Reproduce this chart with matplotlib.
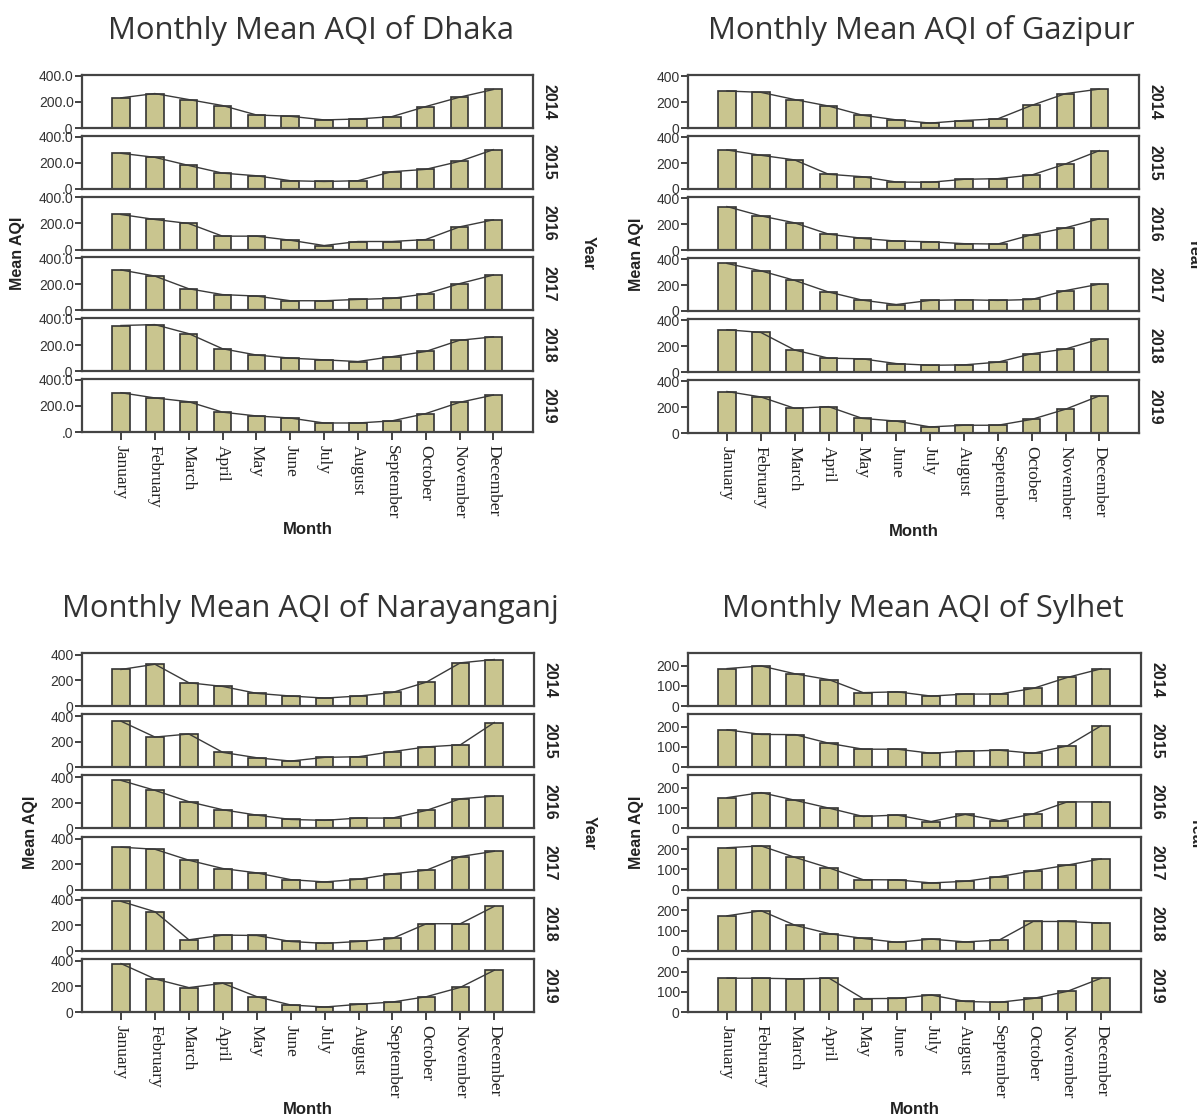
import numpy as np
import matplotlib
matplotlib.use("Agg")
import matplotlib.pyplot as plt

# ---------------------------
# Data
# ---------------------------
months = ["January", "February", "March", "April", "May", "June", "July",
          "August", "September", "October", "November", "December"]
years = ["2014", "2015", "2016", "2017", "2018", "2019"]

dhaka = [
    [231, 264, 218, 172, 100, 90, 62, 69, 87, 164, 236, 295],
    [272, 241, 179, 120, 100, 62, 56, 62, 131, 149, 210, 300],
    [269, 231, 200, 103, 103, 72, 31, 62, 62, 77, 174, 228],
    [310, 263, 166, 121, 110, 74, 74, 84, 92, 126, 205, 271],
    [350, 357, 288, 172, 124, 100, 87, 74, 111, 151, 237, 263],
    [301, 261, 232, 152, 123, 107, 69, 69, 85, 141, 227, 283],
]
gazipur = [
    [286, 276, 220, 170, 99, 63, 38, 58, 71, 175, 266, 301],
    [302, 261, 225, 114, 95, 54, 52, 75, 80, 108, 194, 297],
    [336, 264, 210, 123, 90, 69, 64, 49, 46, 118, 172, 241],
    [368, 311, 237, 147, 84, 50, 82, 87, 82, 89, 158, 208],
    [327, 306, 170, 107, 102, 65, 52, 55, 76, 141, 178, 254],
    [321, 279, 191, 204, 113, 92, 47, 60, 60, 105, 184, 287],
]
narayanganj = [
    [286, 327, 182, 153, 99, 78, 62, 78, 106, 187, 338, 364],
    [360, 236, 260, 116, 74, 48, 77, 82, 122, 159, 175, 350],
    [376, 298, 209, 146, 104, 70, 63, 81, 81, 141, 232, 253],
    [332, 316, 230, 165, 131, 78, 60, 81, 123, 152, 259, 300],
    [387, 306, 86, 123, 120, 73, 58, 73, 97, 212, 212, 348],
    [379, 259, 191, 225, 120, 55, 39, 60, 78, 120, 193, 327],
]
sylhet = [
    [185, 198, 159, 130, 66, 70, 49, 59, 59, 87, 141, 184],
    [185, 162, 161, 118, 89, 89, 69, 79, 84, 69, 105, 205],
    [152, 177, 139, 100, 59, 66, 34, 69, 38, 72, 131, 131],
    [207, 216, 159, 107, 49, 48, 33, 41, 64, 93, 121, 152],
    [173, 198, 126, 85, 61, 42, 58, 44, 53, 145, 145, 137],
    [167, 167, 164, 167, 66, 67, 84, 52, 48, 67, 102, 167],
]

# ---------------------------
# Layout (pixels)
# ---------------------------
W, H = 1197, 1115
fig = plt.figure(figsize=(W / 100, H / 100), dpi=100)

BAR_COLOR = "#c9c58f"
EDGE = "#333333"
ROW_H = 53

panels = [
    dict(name="Dhaka", data=dhaka, left=82, right=533, top=75, pitch=60.8,
         ymax=406, ticks=[0, 200, 400], labels=[".0", "200.0", "400.0"],
         title_dx=4, ylab_x=18),
    dict(name="Gazipur", data=gazipur, left=688, right=1139, top=75, pitch=61,
         ymax=410, ticks=[0, 200, 400], labels=["0", "200", "400"],
         title_dx=8, ylab_x=637),
    dict(name="Narayanganj", data=narayanganj, left=82, right=534, top=653, pitch=61.2,
         ymax=415, ticks=[0, 200, 400], labels=["0", "200", "400"],
         title_dx=2, ylab_x=30),
    dict(name="Sylhet", data=sylhet, left=688, right=1141, top=653, pitch=61.2,
         ymax=262, ticks=[0, 100, 200], labels=["0", "100", "200"],
         title_dx=8, ylab_x=637),
]

x = np.arange(len(months))

for p in panels:
    L, R = p["left"], p["right"]
    for i, yr in enumerate(years):
        top = p["top"] + i * p["pitch"]
        ax = fig.add_axes([L / W, 1 - (top + ROW_H) / H, (R - L) / W, ROW_H / H])
        vals = p["data"][i]
        ax.bar(x, vals, width=0.52, color=BAR_COLOR, edgecolor=EDGE, linewidth=1.2, zorder=2)
        ax.plot(x, vals, color="#3a3a3a", linewidth=1.0, zorder=3)
        ax.set_xlim(-1.15, 12.17)
        ax.set_ylim(0, p["ymax"])
        ax.set_yticks(p["ticks"])
        ax.set_yticklabels(p["labels"], fontsize=10, family="Liberation Sans", color="#222222")
        ax.tick_params(axis="y", direction="out", length=5, width=1.3, pad=1, colors="#333333")
        for s in ax.spines.values():
            s.set_linewidth(1.6)
            s.set_color("#444444")
        ax.set_xticks(x)
        if i == len(years) - 1:
            ax.set_xticklabels(months, rotation=-90, fontsize=12.5,
                               family="Liberation Serif", va="top", ha="center")
            ax.tick_params(axis="x", direction="out", length=6, width=1.3, colors="#333333")
            for t in ax.get_xticklabels():
                t.set_color("#222222")
        else:
            ax.set_xticklabels([])
            ax.tick_params(axis="x", length=0)
        # year label on the right
        ax.text(1 + 16 / (R - L), 0.5, yr, transform=ax.transAxes, rotation=-90,
                ha="center", va="center", fontsize=11.5, fontweight="bold",
                family="Liberation Sans", color="#222222")

    # panel texts
    bottom = p["top"] + 5 * p["pitch"] + ROW_H
    mid_y = (p["top"] + bottom) / 2
    cx = (L + R) / 2
    fig.text((cx + p["title_dx"]) / W, 1 - (p["top"] - 44) / H, f"Monthly Mean AQI of {p['name']}",
             ha="center", va="center", fontsize=22.3, family="Open Sans", color="#333333")
    fig.text(cx / W, 1 - (bottom + 98) / H, "Month", ha="center", va="center",
             fontsize=12, fontweight="bold", family="Liberation Sans", color="#222222")
    fig.text(p["ylab_x"] / W, 1 - mid_y / H, "Mean AQI", ha="center", va="center", rotation=90,
             fontsize=11.5, fontweight="bold", family="Liberation Sans", color="#222222")
    fig.text((R + 55) / W, 1 - mid_y / H, "Year", ha="center", va="center", rotation=-90,
             fontsize=11.5, fontweight="bold", family="Liberation Sans", color="#222222")

fig.savefig("out.png", dpi=100, facecolor="white")
